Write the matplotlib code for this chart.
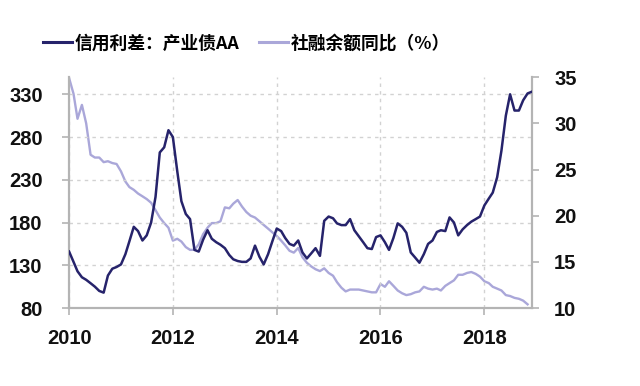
import matplotlib
matplotlib.use("Agg")
import matplotlib.pyplot as plt
import matplotlib.dates as mdates
import pandas as pd
import numpy as np
from matplotlib.lines import Line2D

dates = pd.date_range("2010-01-01", periods=108, freq="MS")

spread_aa = [
    146, 134, 123, 116, 113, 109, 105, 100, 98, 118, 126, 128,
    131, 143, 158, 175, 170, 159, 165, 180, 210, 262, 268, 288,
    280, 240, 205, 190, 184, 148, 146, 160, 171, 161, 157, 154,
    150, 142, 137, 135, 134, 134, 138, 153, 140, 131, 143, 158,
    173, 170, 162, 155, 153, 159, 145, 138, 144, 150, 141, 182,
    187, 185, 179, 177, 177, 184, 171, 164, 157, 150, 149, 163,
    165, 157, 148, 162, 179, 175, 168, 145, 139, 133, 143, 155,
    159, 169, 171, 170, 186, 180, 165, 172, 177, 181, 184, 187,
    200, 208, 215, 233, 264, 305, 330, 311, 311, 323, 331, 333,
]

tsf_yoy = [
    34.9, 33.2, 30.5, 32.0, 30.0, 26.6, 26.3, 26.3, 25.8, 25.9, 25.7, 25.6,
    24.8, 23.7, 23.1, 22.8, 22.4, 22.1, 21.8, 21.4, 20.6, 19.8, 19.2, 18.7,
    17.3, 17.5, 17.2, 16.6, 16.3, 16.3, 16.9, 18.0, 18.7, 19.2, 19.2, 19.4,
    20.9, 20.8, 21.3, 21.7, 21.0, 20.4, 20.0, 19.8, 19.4, 19.0, 18.6, 18.2,
    17.8, 17.3, 16.8, 16.2, 16.0, 16.5, 15.5, 14.9, 14.5, 14.2, 14.0, 14.3,
    13.8, 13.5, 12.8, 12.2, 11.8, 12.0, 12.0, 12.0, 11.9, 11.8, 11.7, 11.7,
    12.6, 12.3, 12.9, 12.4, 11.9, 11.6, 11.4, 11.5, 11.7, 11.8, 12.3, 12.1,
    12.0, 12.1, 11.9, 12.4, 12.7, 13.0, 13.6, 13.6, 13.8, 13.9, 13.7, 13.4,
    12.9, 12.7, 12.3, 12.1, 11.9, 11.4, 11.3, 11.1, 11.0, 10.8, 10.4, np.nan,
]

left_ticks = [80, 130, 180, 230, 280, 330]
right_ticks = [10, 15, 20, 25, 30, 35]
x_tick_years = [2010, 2012, 2014, 2016, 2018]
label_spread = "信用利差：产业债AA"
label_tsf = "社融余额同比（%）"

dark = "#26236b"
light = "#aaa7d9"
spine_c = "#b4b4b4"

plt.rcParams["font.family"] = ["Liberation Sans", "DejaVu Sans"]

fig = plt.figure(figsize=(6.4, 3.86), dpi=100)
ax = fig.add_axes([0.108, 0.202, 0.723, 0.598])
ax2 = ax.twinx()

ax.plot(dates, spread_aa, color=dark, lw=1.8, zorder=3)
ax2.plot(dates, tsf_yoy, color=light, lw=1.7, zorder=2)
ax.set_zorder(ax2.get_zorder() + 1)
ax.patch.set_visible(False)

ax.set_xlim(dates[0], dates[-1])
ax.set_ylim(80, 350)
ax2.set_ylim(10, 35)
ax.set_yticks(left_ticks)
ax2.set_yticks(right_ticks)
ax.set_xticks([pd.Timestamp(f"{y}-01-01") for y in x_tick_years])
ax.xaxis.set_major_formatter(mdates.DateFormatter("%Y"))

for a in (ax, ax2):
    for s in a.spines.values():
        s.set_color(spine_c)
        s.set_linewidth(1.5)
    a.spines["top"].set_visible(False)
    a.tick_params(colors=spine_c, length=5, width=1.2, labelsize=14.5)
    for lab in a.get_xticklabels() + a.get_yticklabels():
        lab.set_fontweight("bold")
        lab.set_color("#111111")

ax.tick_params(axis="y", pad=14)
ax2.tick_params(axis="y", pad=11)
ax.tick_params(axis="x", pad=10)

ax.grid(True, color="#d2d2d2", ls=(0, (2.5, 3)), lw=1.0, zorder=0)
ax.set_axisbelow(True)

handles = [Line2D([], [], color=dark, lw=2.2), Line2D([], [], color=light, lw=2.2)]
fig.legend(handles, [label_spread, label_tsf], loc="center", bbox_to_anchor=(0.385, 0.888),
           ncol=2, frameon=False, handlelength=1.6, handletextpad=0.15, columnspacing=1.15,
           prop={"family": ["Noto Sans CJK SC", "DejaVu Sans"], "weight": "bold", "size": 12.8})

fig.savefig("out.png", dpi=100, facecolor="white")
